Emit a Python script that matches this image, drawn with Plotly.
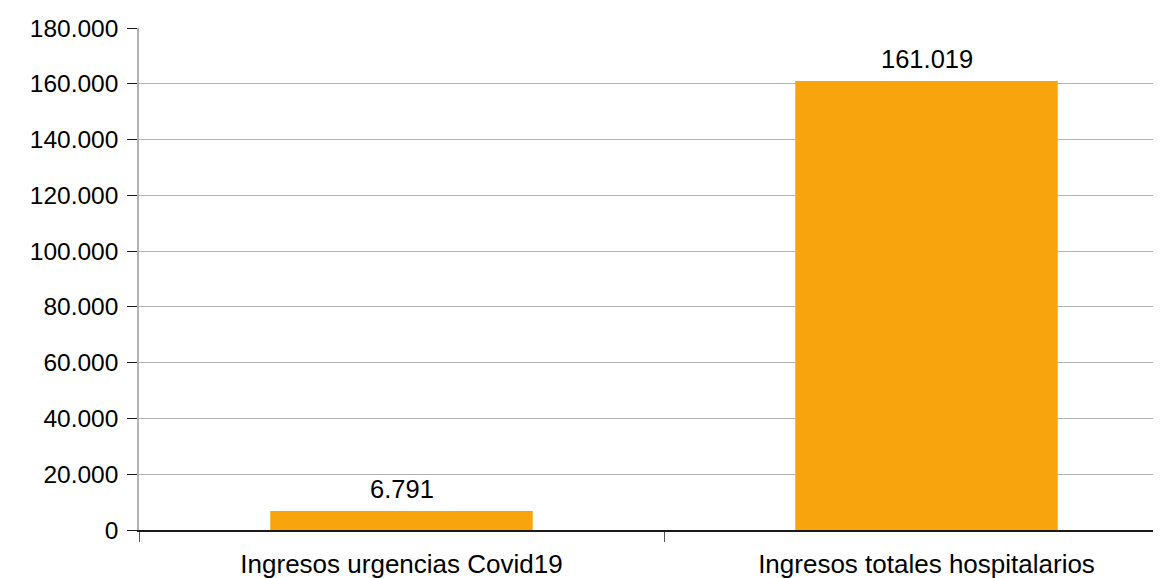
import plotly.graph_objects as go

categorias = ['Ingresos urgencias Covid19', 'Ingresos totales hospitalarios']
ingresos = [6791, 161019]
y_ticks = [0, 20000, 40000, 60000, 80000, 100000, 120000, 140000, 160000, 180000]

fig = go.Figure(go.Bar(
    x=categorias,
    y=ingresos,
    width=0.5,
    marker=dict(color='#f7a40d', line=dict(width=0)),
))

# etiquetas de valor sobre las barras
for c, v in zip(categorias, ingresos):
    fig.add_annotation(
        x=c, y=v,
        text=f'{v:,}'.replace(',', '.'),
        showarrow=False,
        yanchor='bottom',
        yshift=6,
        font=dict(family='Liberation Sans', size=25.5, color='black'),
    )

fig.update_layout(
    width=1153,
    height=570,
    separators=',.',
    plot_bgcolor='white',
    paper_bgcolor='white',
    showlegend=False,
    font=dict(family='Liberation Sans', size=25, color='black'),
    margin=dict(l=131, r=0, t=20, b=48, autoexpand=False),
    xaxis=dict(
        range=[-0.5, -0.5 + 1022 / 525],
        tickson='boundaries',
        ticks='outside',
        ticklen=10,
        tickcolor='#555555',
        showline=True,
        linecolor='#1a1a1a',
        linewidth=1.5,
        showgrid=False,
        tickfont=dict(size=26),
        ticklabelstandoff=10,
    ),
    yaxis=dict(
        range=[0, 180000],
        tickvals=y_ticks,
        tickformat=',.0f',
        ticks='outside',
        ticklen=10,
        tickcolor='#1a1a1a',
        showline=True,
        linecolor='#b3b3b3',
        linewidth=1.5,
        showgrid=True,
        gridcolor='#b3b3b3',
        zeroline=False,
        tickfont=dict(size=24.5),
        ticklabelstandoff=4,
    ),
)

fig.write_html('out.html')
